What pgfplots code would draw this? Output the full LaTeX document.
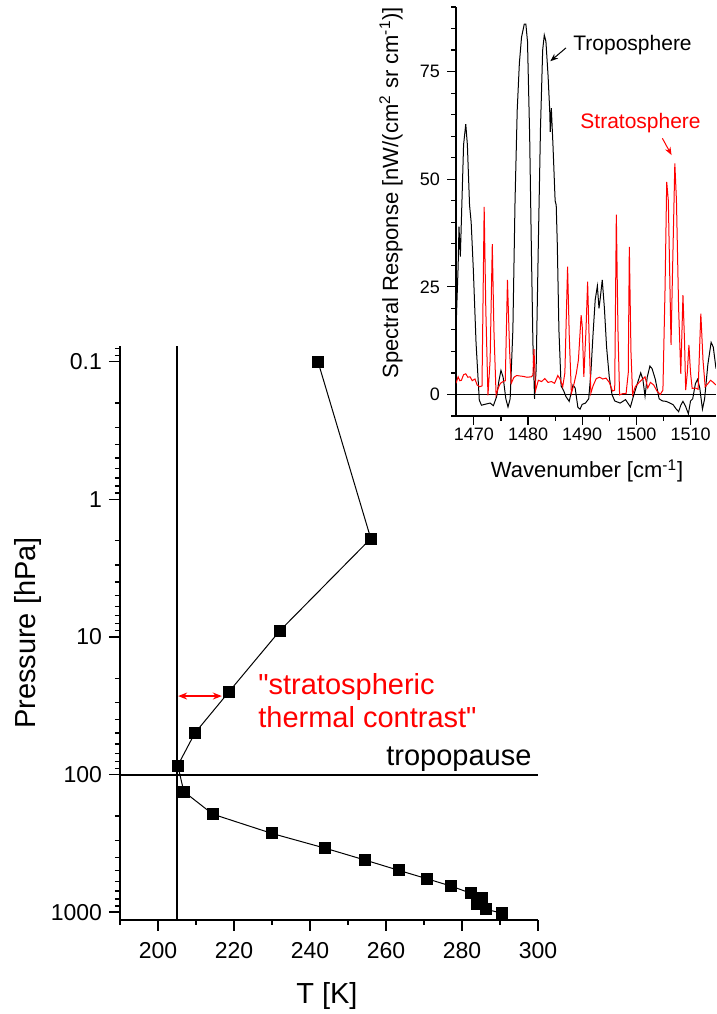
\documentclass[border=0pt]{standalone}
\usepackage{fontspec}
\setmainfont{Liberation Sans}
\newfontfamily\qfont{Liberation Sans}
\usepackage{pgfplots}
\pgfplotsset{compat=1.18}
\usetikzlibrary{arrows.meta}
\begin{document}
\begin{tikzpicture}
\path[use as bounding box] (0pt,0pt) rectangle (358.5pt,507pt);
% ---------------- main axis ----------------
\begin{axis}[
  at={(60pt,47pt)}, anchor=south west,
  scale only axis, width=209pt, height=287pt,
  xmin=190, xmax=300, ymin=0.077, ymax=1140,
  ymode=log, y dir=reverse,
  axis x line*=bottom, axis y line*=left,
  axis line style={-, line width=1pt},
  tick align=outside, major tick length=5.5pt, minor tick length=2.5pt,
  every tick/.style={black, line width=0.7pt},
  xtick={200,220,...,300}, minor xtick={190,210,...,290},
  ytick={0.1,1,10,100,1000}, yticklabels={0.1,1,10,100,1000},
  minor ytick={0.08,0.09,0.2,0.3,0.4,0.5,0.6,0.7,0.8,0.9,2,3,4,5,6,7,8,9,20,30,40,50,60,70,80,90,200,300,400,500,600,700,800,900},
  /pgf/number format/assume math mode=true,
  /pgf/number format/1000 sep={},
  ticklabel style={font=\fontsize{11.5}{13}\selectfont},
  xticklabel style={yshift=-2.2pt},
  yticklabel style={xshift=0pt},
  xlabel={T [K]}, ylabel={Pressure [hPa]},
  xlabel style={font=\fontsize{14.5}{17}\selectfont, at={(axis description cs:0.495,-0.1446)}, anchor=base},
  ylabel style={font=\fontsize{14.5}{17}\selectfont, at={(axis description cs:-0.201,0.5)}, anchor=base, rotate=0},
  clip=false,
]
\addplot[black, line width=1pt] coordinates {(205,0.077) (205,1140)};
\addplot[black, line width=1pt] coordinates {(190,100) (300,100)};
\addplot[black, line width=0.5pt, mark=square*, mark size=2.75pt, mark options={solid}] coordinates {
(242.1,0.1) (256.0,1.93) (232.1,9.0) (218.7,25) (209.7,50) (205.2,86)
(206.8,133) (214.4,194) (230.0,268) (244.0,343) (254.6,419) (263.3,496)
(270.9,573) (277.0,645) (282.3,728) (285.3,795) (283.9,865) (286.2,951) (290.4,1016)
};
\node[inner sep=0pt, anchor=base east, font=\fontsize{14.5}{17}\selectfont] at (axis cs:298.4,85.7) {tropopause};
\node[inner sep=0pt, red, anchor=base west, font=\fontsize{14.5}{17}\selectfont] at (axis cs:226.3,26.1) {{\qfont"}stratospheric};
\node[inner sep=0pt, red, anchor=base west, font=\fontsize{14.5}{17}\selectfont] at (axis cs:226.3,45.4) {thermal contrast{\qfont"}};
\draw[red, line width=0.6pt, {Stealth[length=4.5pt,width=3.5pt]}-{Stealth[length=4.5pt,width=3.5pt]}] (axis cs:205.3,26.9) -- (axis cs:216.8,26.9);
\end{axis}
% ---------------- inset ----------------
\begin{axis}[
  at={(228pt,299pt)}, anchor=south west,
  scale only axis, width=130pt, height=204.5pt,
  xmin=1466.7, xmax=1514.7, ymin=-5, ymax=90,
  axis x line*=bottom, axis y line*=left,
  axis line style={-, line width=1pt},
  tick align=outside, major tick length=4.5pt, minor tick length=2.5pt,
  every tick/.style={black, line width=0.6pt},
  xtick={1470,1480,...,1510}, minor xtick={1475,1485,...,1505},
  ytick={0,25,50,75}, minor ytick={-5,5,10,15,20,30,35,40,45,55,60,65,70,80,85,90},
  /pgf/number format/assume math mode=true,
  /pgf/number format/1000 sep={},
  ticklabel style={font=\fontsize{9}{10}\selectfont},
  xticklabel style={yshift=2.2pt},
  xlabel={Wavenumber [cm\textsuperscript{-1}]},
  ylabel={Spectral Response [nW/(cm\textsuperscript{2} sr cm\textsuperscript{-1})]},
  xlabel style={font=\fontsize{11}{13}\selectfont, at={(axis description cs:0.504,-0.1516)}, anchor=base},
  ylabel style={font=\fontsize{11}{13}\selectfont, at={(axis description cs:-0.223,0.546)}, anchor=base},
]
\addplot[black, line width=0.7pt] coordinates {(1466.7,0) (1514.7,0)};
\addplot[black, line width=0.5pt] coordinates {
(1466.7,15) (1467.1,30) (1467.25,39) (1467.5,32) (1467.8,45) (1468.1,58) (1468.5,62.8)
(1468.8,58) (1469.2,44) (1469.5,40) (1469.9,29) (1470.4,12) (1471.0,-1.3) (1471.4,-2.5)
(1472.0,-2.3) (1473.0,-2.0) (1473.6,-2.6) (1474.2,-0.5) (1474.6,3) (1475.0,5.6) (1475.4,4)
(1475.9,-1) (1476.3,-2.9) (1476.7,-1) (1477.2,15) (1477.6,45) (1478.0,66) (1478.4,77)
(1478.8,83) (1479.3,86) (1479.6,86) (1479.9,82) (1480.3,60) (1480.6,35) (1480.9,12)
(1481.2,-1.0) (1481.5,6) (1481.9,35) (1482.3,62) (1482.7,80) (1483.0,83.5) (1483.3,82)
(1483.7,74) (1484.0,66) (1484.1,61) (1484.3,66.5) (1484.6,58) (1485.0,45) (1485.2,44)
(1485.4,35) (1485.7,15) (1486.1,2) (1486.6,0.8) (1487.0,-0.5) (1487.6,-1.6) (1488.3,2.2)
(1488.7,1.5) (1489.2,-3.0) (1489.6,-3.4) (1490.0,-2.3) (1490.6,-2.0) (1491.2,-1.0) (1491.6,5)
(1492.0,14) (1492.4,22) (1492.8,25.2) (1493.1,20) (1493.3,22) (1493.7,26.6) (1494.1,20)
(1494.5,11) (1495.0,4) (1495.5,0) (1496.0,-1.5) (1497.0,-2.0) (1498.0,-1.2) (1498.9,-2.9)
(1499.5,-0.2) (1500.3,3) (1500.8,5) (1501.2,3.5) (1501.6,-0.4) (1502.0,4) (1502.5,6.6)
(1502.9,6) (1503.5,3.5) (1504.2,-1.0) (1504.8,-1.5) (1505.5,-1.6) (1506.2,-2.0) (1506.8,-2.4)
(1507.3,-3.3) (1507.8,-4.0) (1508.2,-2.5) (1508.6,-1.6) (1509.1,-2.8) (1509.6,-4.5) (1510.0,-1.5)
(1510.4,-1.0) (1510.9,2.5) (1511.3,3.5) (1511.7,1.5) (1512.2,-3.4) (1512.6,-1) (1513.2,7)
(1513.8,12.1) (1514.2,11) (1514.7,6)
};
\addplot[red, line width=0.5pt] coordinates {
(1466.7,2.6) (1467.1,4.1) (1467.4,3.2) (1467.7,3.3) (1468.1,4.6) (1468.5,4.8) (1468.9,4.0)
(1469.3,4.1) (1469.7,3.2) (1470.2,3.6) (1470.6,2.2) (1471.1,1.8) (1471.5,2.0) (1471.9,43.6)
(1472.2,20) (1472.6,-0.2) (1473.0,8) (1473.4,34.9) (1473.7,15) (1474.1,-0.1) (1474.5,1.5)
(1474.9,2.6) (1475.4,3) (1475.8,3.2) (1476.2,26.6) (1476.6,10) (1476.9,2.6) (1477.4,4.0)
(1477.9,4.4) (1478.5,4.3) (1479.1,4.2) (1479.8,4.0) (1480.6,4.1) (1480.9,4.5) (1481.1,10.5)
(1481.4,1.0) (1481.9,3.3) (1482.5,3.0) (1483.1,3.7) (1483.7,2.8) (1484.3,3.0) (1484.9,2.6)
(1485.5,4.4) (1485.9,3.6) (1486.4,1.8) (1486.8,5) (1487.3,29.7) (1487.6,14) (1488.0,0.3)
(1488.4,2) (1488.9,4.8) (1489.3,8) (1489.8,18.4) (1490.0,16) (1490.3,4.1) (1490.7,15)
(1491.0,26.2) (1491.3,12) (1491.6,0.3) (1492.0,2.0) (1492.6,3.7) (1493.2,4.0) (1493.8,3.6)
(1494.4,3.8) (1495.0,2.8) (1495.6,0.8) (1496.0,1.0) (1496.3,41.8) (1496.6,15) (1496.9,-0.1)
(1497.5,0.2) (1498.1,0.2) (1498.5,5) (1498.7,34.3) (1499.0,10) (1499.3,0) (1499.8,1.8)
(1500.5,2.8) (1501.1,3.5) (1501.6,4.1) (1502.1,1.5) (1502.6,2.8) (1503.2,2.2) (1503.8,0.8)
(1504.4,0.0) (1504.9,1) (1505.3,25) (1505.6,49.4) (1505.9,45) (1506.2,25) (1506.4,11.5)
(1506.7,30) (1507.1,53.7) (1507.4,45) (1507.8,20) (1508.2,4.8) (1508.6,23.1) (1508.9,12)
(1509.1,1.0) (1509.4,5) (1509.7,11.5) (1510.0,5) (1510.3,1.4) (1510.9,1.5) (1511.4,1.2)
(1511.9,18.8) (1512.3,8) (1512.7,1.8) (1513.2,2.5) (1513.7,3.3) (1514.2,2.8) (1514.7,2.2)
};
\node[inner sep=0pt, anchor=west, font=\fontsize{10.5}{12}\selectfont] at (axis cs:1488.3,81.2) {Troposphere};
\draw[black, line width=0.5pt, -{Stealth[length=4pt,width=3pt]}] (axis cs:1487.0,80.5) -- (axis cs:1484.1,77.4);
\node[inner sep=0pt, red, anchor=west, font=\fontsize{10.5}{12}\selectfont] at (axis cs:1489.6,63.1) {Stratosphere};
\draw[red, line width=0.5pt, -{Stealth[length=4pt,width=3pt]}] (axis cs:1504.8,59.5) -- (axis cs:1506.5,55.6);
\end{axis}
\end{tikzpicture}
\end{document}
